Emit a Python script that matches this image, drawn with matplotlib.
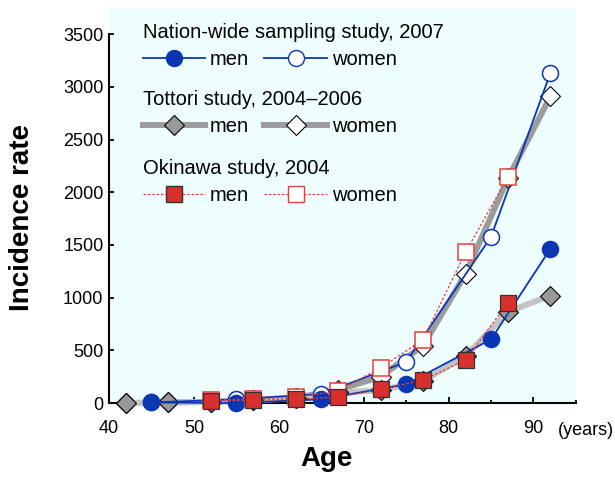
import numpy as np
import matplotlib
matplotlib.use('Agg')
import matplotlib.pyplot as plt
from matplotlib.lines import Line2D
from matplotlib.ticker import MultipleLocator

plt.rcParams['font.family'] = ['Liberation Sans', 'DejaVu Sans']

# Nation-wide sampling study, 2007
nw_age = [45, 55, 65, 75, 85, 92]
nw_men = [5, 0, 35, 177, 604, 1465]
nw_women = [5, 35, 85, 390, 1578, 3135]

# Tottori study, 2004-2006
tt_age = [42, 47, 52, 57, 62, 67, 72, 77, 82, 87, 92]
tt_men = [0, 5, 10, 25, 45, 100, 120, 210, 445, 866, 1020]
tt_women = [0, 5, 10, 30, 50, 125, 250, 545, 1225, 2135, 2910]

# Okinawa study, 2004
ok_age = [52, 57, 62, 67, 72, 77, 82, 87]
ok_men = [20, 25, 38, 55, 130, 218, 408, 952]
ok_women = [25, 40, 55, 115, 335, 600, 1433, 2147]

blue = '#0a36b4'
red = '#d8302c'
red_l = '#e4403c'

fig = plt.figure(figsize=(6.15, 4.78), dpi=100)
ax = fig.add_axes([0.1772, 0.1569, 0.7593, 0.8264])
ax.set_facecolor('#eefdfd')

# Tottori
ax.plot(tt_age, tt_women, color='#9c9c9c', lw=4.3, marker='D', ms=10,
        mfc='white', mec='black', mew=0.8, clip_on=False, zorder=2)
ax.plot(tt_age, tt_men, color='#c4c4c4', lw=4.3, marker='D', ms=10,
        mfc='#999999', mec='black', mew=0.8, clip_on=False, zorder=2)

# Nation-wide
ax.plot(nw_age, nw_women, color=blue, lw=1.3, marker='o', ms=11.5,
        mfc='white', mec=blue, mew=1.1, clip_on=False, zorder=3)
ax.plot(nw_age, nw_men, color=blue, lw=1.3, marker='o', ms=11.5,
        mfc=blue, mec=blue, mew=1.1, clip_on=False, zorder=3)

# Okinawa
ax.plot(ok_age, ok_women, color=red_l, lw=0.9, ls=(0, (2, 1.5)), marker='s', ms=11,
        mfc='white', mec=red_l, mew=1.1, clip_on=False, zorder=4)
ax.plot(ok_age, ok_men, color=red_l, lw=0.9, ls=(0, (2, 1.5)), marker='s', ms=11,
        mfc=red, mec='#333333', mew=0.9, clip_on=False, zorder=4)

ax.set_xlim(40, 95)
ax.set_ylim(0, 3750)
ax.spines['left'].set_bounds(0, 3500)
ax.spines['top'].set_visible(False)
ax.spines['right'].set_visible(False)
for s in ['left', 'bottom']:
    ax.spines[s].set_linewidth(1.5)
    ax.spines[s].set_zorder(1)

ax.xaxis.set_major_locator(MultipleLocator(10))
ax.xaxis.set_minor_locator(MultipleLocator(5))
ax.yaxis.set_major_locator(MultipleLocator(500))
ax.tick_params(axis='x', which='major', direction='in', length=4.5, width=1.3,
               labelsize=13, pad=12)
ax.tick_params(axis='x', which='minor', direction='in', length=2.5, width=1.3)
ax.tick_params(axis='y', which='major', direction='in', length=3.5, width=1.3,
               labelsize=13, pad=4)

ax.text(96.2, -0.048, '(years)', transform=ax.get_xaxis_transform(), ha='center',
        va='top', fontsize=13)

ax.set_xlabel('Age', fontsize=20, fontweight='bold')
ax.xaxis.set_label_coords(0.465, -0.108)
ax.set_ylabel('Incidence rate', fontsize=20, fontweight='bold')
ax.yaxis.set_label_coords(-0.158, 0.47)

# legends
kw = dict(frameon=False, ncol=2, fontsize=14.5, handlelength=3.1, handletextpad=0.25,
          columnspacing=0.75, borderpad=0, borderaxespad=0, alignment='left',
          title_fontsize=14.5, loc='upper left')

h1 = [Line2D([], [], color=blue, lw=1.3, marker='o', ms=11.5, mfc=blue, mec=blue),
      Line2D([], [], color=blue, lw=1.3, marker='o', ms=11.5, mfc='white', mec=blue)]
h2 = [Line2D([], [], color='#9c9c9c', lw=4.3, marker='D', ms=10, mfc='#999999', mec='black', mew=0.8),
      Line2D([], [], color='#9c9c9c', lw=4.3, marker='D', ms=10, mfc='white', mec='black', mew=0.8)]
h3 = [Line2D([], [], color=red_l, lw=0.9, ls=(0, (2, 1.5)), marker='s', ms=11, mfc=red, mec='#333333'),
      Line2D([], [], color=red_l, lw=0.9, ls=(0, (2, 1.5)), marker='s', ms=11, mfc='white', mec=red_l)]

leg1 = ax.legend(h1, ['men', 'women'], title='Nation-wide sampling study, 2007',
                 bbox_to_anchor=(0.072, 0.962), **kw)
ax.add_artist(leg1)
leg2 = ax.legend(h2, ['men', 'women'], title='Tottori study, 2004\u20132006',
                 bbox_to_anchor=(0.072, 0.792), **kw)
ax.add_artist(leg2)
leg3 = ax.legend(h3, ['men', 'women'], title='Okinawa study, 2004',
                 bbox_to_anchor=(0.072, 0.618), **kw)
for lg in (leg1, leg2, leg3):
    lg._legend_box.sep = 6

fig.savefig('out.png', dpi=100)
